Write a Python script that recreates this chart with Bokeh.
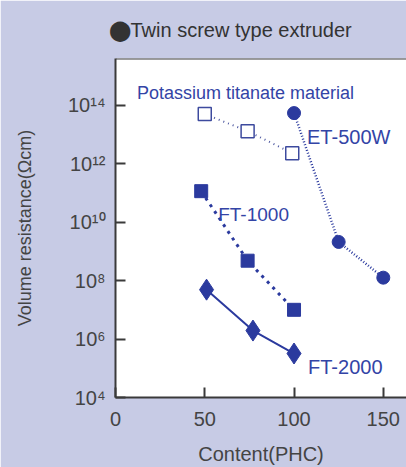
from bokeh.plotting import figure
from bokeh.models import Range1d, FixedTicker, Span, Title
from bokeh.core.properties import value
from bokeh.embed import file_html
from bokeh.resources import INLINE

# ---- data ----
x_ticks = [0, 50, 100, 150]
y_ticks = [1e4, 1e6, 1e8, 1e10, 1e12, 1e14]
y_tick_labels = ["10⁴", "10⁶", "10⁸", "10¹⁰", "10¹²", "10¹⁴"]

open_x = [50, 74, 99]
open_y = [5.0e13, 1.3e13, 2.3e12]

et500w_x = [100, 125, 150]
et500w_y = [5.4e13, 2.1e9, 1.26e8]

ft1000_x = [48, 74, 100]
ft1000_y = [1.15e11, 4.8e8, 1.0e7]

ft2000_x = [51, 77, 100]
ft2000_y = [4.9e7, 1.95e6, 3.2e5]

FONT = "Liberation Sans"
BLUE = "#2b3a9e"
TEXT_BLUE = "#3344a6"
GREY = "#3a3a3a"
BG = "#c7cbe5"

p = figure(width=406, height=467, output_backend="svg", toolbar_location=None,
           y_axis_type="log", x_range=Range1d(0, 163), y_range=Range1d(1e4, 10 ** 15.6),
           min_border_left=115, min_border_right=0, min_border_top=58, min_border_bottom=70)
p.title = Title(text="⬤Twin screw type extruder", align="left", offset=-7, standoff=31,
                vertical_align="top",
                text_font=FONT, text_font_size="20px", text_font_style="normal",
                text_color="#333333")
p.border_fill_color = BG
p.background_fill_color = "white"
p.outline_line_color = None
p.grid.visible = False

# axes
p.xaxis.ticker = FixedTicker(ticks=x_ticks)
p.yaxis.ticker = FixedTicker(ticks=y_ticks)
p.yaxis.major_label_overrides = {float(t): l for t, l in zip(y_ticks, y_tick_labels)}
for ax in (p.xaxis[0], p.yaxis[0]):
    ax.axis_line_color = GREY
    ax.axis_line_width = 2
    ax.major_tick_line_color = GREY
    ax.major_tick_line_width = 2
    ax.major_tick_in = 10
    ax.major_tick_out = 0
    ax.minor_tick_line_color = None
    ax.major_label_text_font = FONT
    ax.major_label_text_font_size = "20px"
    ax.major_label_text_color = "#444444"
    ax.axis_label_text_font = FONT
    ax.axis_label_text_font_style = "normal"
    ax.axis_label_text_color = "#444444"
p.xaxis.axis_label = "Content(PHC)"
p.yaxis.axis_label = "Volume resistance(Ωcm)"
p.xaxis.axis_label_text_font_size = "20px"
p.yaxis.axis_label_text_font_size = "18px"
p.xaxis.major_label_standoff = 14
p.xaxis.axis_label_standoff = 14
p.yaxis.major_label_standoff = 10
p.yaxis.axis_label_standoff = 30

# top frame line
p.add_layout(Span(location=p.y_range.end, dimension="width", line_color=GREY, line_width=2))

# series
p.line(open_x, open_y, line_color="#4a559f", line_width=2, line_dash="1 4")
p.scatter(open_x, open_y, marker="square", size=13, fill_color="white",
          line_color="#3d4a9e", line_width=1.5)

p.line(et500w_x, et500w_y, line_color=BLUE, line_width=2.5, line_dash="1 2")
p.scatter(et500w_x, et500w_y, marker="circle", size=13, fill_color=BLUE, line_color=BLUE)

p.line(ft1000_x, ft1000_y, line_color=BLUE, line_width=3, line_dash="3 5")
p.scatter(ft1000_x, ft1000_y, marker="square", size=13, fill_color=BLUE, line_color=BLUE)

p.line(ft2000_x, ft2000_y, line_color=BLUE, line_width=2)
p.scatter(ft2000_x, ft2000_y, marker="diamond", size=21, fill_color=BLUE, line_color=BLUE)

# labels
txt = dict(text_font=value(FONT), text_color=TEXT_BLUE, text_baseline="alphabetic",
           text_align="left")
p.text(x=[12], y=[10 ** 14.41], text=["Potassium titanate material"],
       text_font_size="18px", **txt)
p.text(x=[et500w_x[0]], y=[et500w_y[0]], text=["ET-500W"], x_offset=13, y_offset=24,
       text_font_size="20px", **txt)
p.text(x=[ft1000_x[0]], y=[ft1000_y[0]], text=["FT-1000"], x_offset=17, y_offset=23,
       text_font_size="19px", **txt)
p.text(x=[ft2000_x[-1]], y=[ft2000_y[-1]], text=["FT-2000"], x_offset=14, y_offset=13,
       text_font_size="20px", **txt)

open("out.html", "w").write(file_html(p, INLINE))
